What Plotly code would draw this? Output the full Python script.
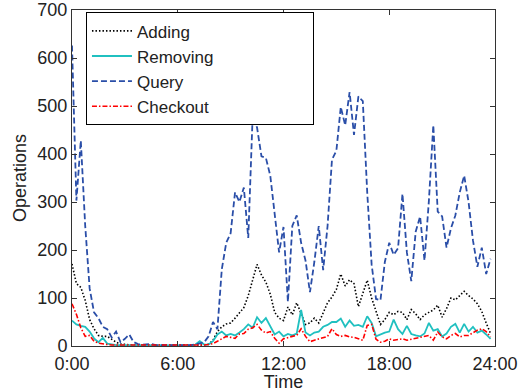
import plotly.graph_objects as go

# time in hours, 15-minute steps from 0:00 to 23:45
hours = [i * 0.25 for i in range(96)]

adding = [171, 130, 122, 95, 55, 36, 22, 20, 20, 14, 8, 4, 3, 2, 2, 2,
          2, 1, 1, 1, 1, 1, 1, 1, 1, 1, 1, 1, 2, 2, 2, 4,
          12, 30, 40, 46, 48, 58, 70, 80, 105, 135, 170, 148, 133, 108, 70, 58,
          53, 81, 65, 90, 67, 45, 48, 58, 48, 68, 90, 102, 118, 150, 125, 138,
          130, 82, 112, 137, 100, 74, 45, 55, 70, 65, 72, 70, 55, 76, 67, 55,
          65, 70, 75, 85, 60, 78, 100, 96, 104, 114, 105, 98, 88, 72, 48, 26]

removing = [53, 45, 42, 40, 30, 16, 8, 17, 5, 3, 2, 2, 2, 2, 2, 2,
            2, 1, 1, 1, 1, 1, 1, 1, 1, 1, 1, 1, 3, 10, 3, 3,
            10, 24, 30, 22, 25, 22, 28, 35, 45, 38, 60, 48, 58, 42, 24, 30,
            20, 25, 22, 26, 75, 28, 22, 28, 30, 40, 44, 50, 50, 57, 40, 53,
            42, 44, 40, 62, 48, 20, 24, 28, 30, 55, 35, 25, 42, 25, 22, 20,
            26, 48, 32, 35, 20, 26, 40, 46, 28, 46, 30, 40, 28, 32, 24, 15]

query = [626, 303, 428, 250, 120, 70, 58, 40, 35, 18, 30, 8, 15, 24, 8, 4,
         3, 3, 4, 2, 2, 1, 1, 1, 1, 1, 2, 2, 3, 5, 8, 20,
         50, 35, 160, 215, 235, 320, 300, 330, 225, 480, 455, 395, 392, 355, 276, 195,
         248, 92, 250, 272, 215, 178, 112, 175, 250, 158, 250, 388, 407, 498, 460, 529,
         440, 520, 510, 320, 170, 98, 95, 175, 215, 190, 204, 317, 195, 135, 238, 270,
         178, 303, 460, 280, 270, 205, 245, 272, 320, 355, 300, 220, 165, 205, 150, 182]

checkout = [88, 66, 38, 20, 22, 10, 6, 4, 3, 2, 2, 2, 1, 1, 1, 1,
            1, 1, 1, 1, 1, 1, 1, 1, 1, 1, 1, 1, 1, 1, 2, 3,
            5, 10, 15, 20, 18, 16, 25, 26, 35, 38, 45, 33, 27, 30, 16, 6,
            15, 18, 20, 22, 36, 20, 9, 12, 15, 18, 20, 36, 24, 20, 22, 19,
            18, 15, 12, 43, 45, 14, 8, 10, 15, 12, 14, 15, 12, 14, 15, 18,
            20, 22, 12, 29, 19, 15, 22, 26, 19, 22, 22, 28, 33, 36, 30, 19]

tick_vals = [0, 6, 12, 18, 24]
tick_text = ["0:00", "6:00", "12:00", "18:00", "24:00"]

pad = "\u00a0" * 20
series = [
    ("Adding", adding, "#000000", "1.5px,2px", 1.6),
    ("Removing", removing, "#20c0c0", "solid", 1.8),
    ("Query", query, "#2a4ea8", "6px,3px", 1.8),
    ("Checkout", checkout, "#ff0000", "5px,2px,1.5px,2px", 1.6),
]

fig = go.Figure()
for name, vals, color, dash, w in series:
    fig.add_trace(go.Scatter(x=hours, y=vals, name=name + pad, mode="lines",
                             line=dict(color=color, width=w, dash=dash)))

font = dict(family="Liberation Sans, Arial, sans-serif", size=18, color="#222222")
axis_common = dict(showline=True, linecolor="#333333", linewidth=1, mirror="ticks",
                   ticks="inside", ticklen=5, tickcolor="#333333", showgrid=False,
                   zeroline=False, tickfont=font, automargin=False)

fig.update_layout(
    width=527, height=392,
    margin=dict(l=72, r=32, t=10, b=46),
    paper_bgcolor="white", plot_bgcolor="white",
    font=font,
    showlegend=True,
    legend=dict(x=0.033, y=0.993, xanchor="left", yanchor="top",
                bgcolor="white", bordercolor="#000000", borderwidth=1,
                font=dict(family=font["family"], size=17, color="#222222"),
                tracegroupgap=0, itemwidth=40),
    xaxis=dict(range=[0, 24], tickvals=tick_vals, ticktext=tick_text,
               ticklabelstandoff=1,
               title=dict(text="Time", font=font, standoff=7), **axis_common),
    yaxis=dict(range=[0, 700], dtick=100,
               title=dict(text="Operations", font=font, standoff=6), **axis_common),
)

fig.write_html("out.html", config={"displayModeBar": False},
               post_script="document.body.style.margin='0';document.body.style.overflow='hidden';")
